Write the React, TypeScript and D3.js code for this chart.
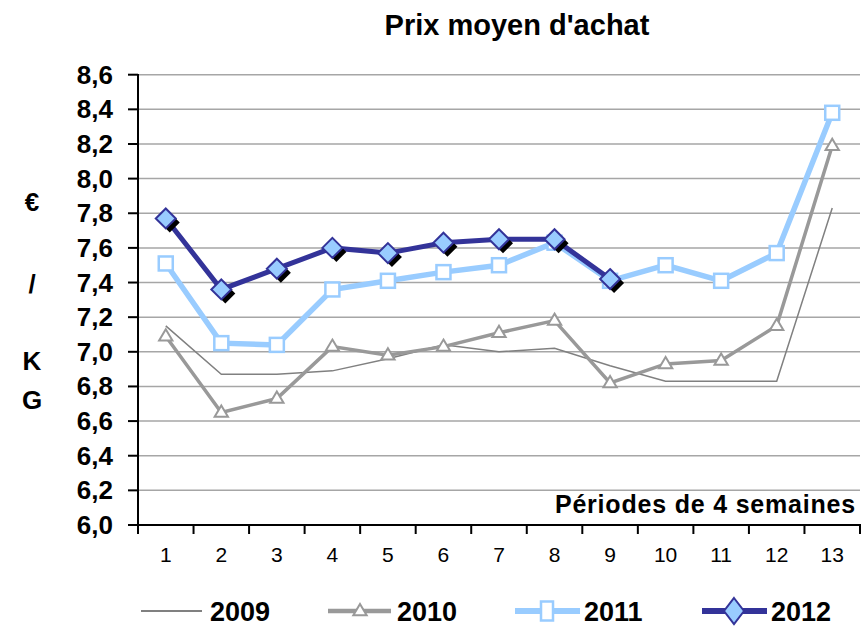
import React from "react";
import * as d3 from "d3";

const periods = ["1","2","3","4","5","6","7","8","9","10","11","12","13"];
const yTicks = [6.0,6.2,6.4,6.6,6.8,7.0,7.2,7.4,7.6,7.8,8.0,8.2,8.4,8.6];
const s2009 = [7.15,6.87,6.87,6.89,6.96,7.04,7.00,7.02,6.92,6.83,6.83,6.83,7.83];
const s2010 = [7.09,6.65,6.73,7.03,6.98,7.03,7.11,7.18,6.82,6.93,6.95,7.15,8.19];
const s2011 = [7.51,7.05,7.04,7.36,7.41,7.46,7.50,7.63,7.41,7.50,7.41,7.57,8.38];
const s2012 = [7.77,7.36,7.48,7.60,7.57,7.63,7.65,7.65,7.42];
const legendLabels = ["2009","2010","2011","2012"];

const FONT = "'Liberation Sans', Arial, sans-serif";

export default function App() {
  const x = d3.scaleBand().domain(periods).range([138, 860]);
  const bw = x.bandwidth();
  const cx = (i: number) => (x(periods[i]) as number) + bw / 2;
  const y = d3.scaleLinear().domain([6.0, 8.6]).range([525, 74.7]);
  const line = d3.line<number>().x((_, i) => cx(i)).y((d) => y(d));

  const tri = (px: number, py: number, r: number) =>
    `M${px},${py - r}L${px + r * 0.95},${py + r * 0.6}L${px - r * 0.95},${py + r * 0.6}Z`;
  const dia = (px: number, py: number, rx: number, ry: number) =>
    `M${px},${py - ry}L${px + rx},${py}L${px},${py + ry}L${px - rx},${py}Z`;

  const legendX = [141, 328, 515, 702];

  return (
    <svg width={861} height={627} style={{ position: "absolute", left: 0, top: 0, background: "#fff" }}>
      <text x={517} y={35} textAnchor="middle" fontFamily={FONT} fontWeight="bold" fontSize={29}>
        Prix moyen d'achat
      </text>
      {yTicks.map((t) => (
        <line key={"g" + t} x1={138} x2={860} y1={y(t)} y2={y(t)} stroke="#a6a6a6" strokeWidth={1.5} />
      ))}
      {yTicks.map((t) => (
        <g key={"t" + t}>
          <line x1={128} x2={138} y1={y(t)} y2={y(t)} stroke="#000" strokeWidth={2} />
          <text x={113} y={y(t) + 9} textAnchor="end" fontFamily={FONT} fontWeight="bold" fontSize={26}>
            {t.toFixed(1).replace(".", ",")}
          </text>
        </g>
      ))}
      {periods.map((p, i) => (
        <g key={"x" + p}>
          <line x1={x(p) as number} x2={x(p) as number} y1={525} y2={534} stroke="#000" strokeWidth={2} />
          <text x={cx(i)} y={561.5} textAnchor="middle" fontFamily={FONT} fontSize={21}>{p}</text>
        </g>
      ))}
      <line x1={860} x2={860} y1={525} y2={534} stroke="#000" strokeWidth={2} />
      <line x1={138} x2={138} y1={74} y2={526} stroke="#000" strokeWidth={2} />
      <line x1={137} x2={861} y1={525} y2={525} stroke="#000" strokeWidth={2} />

      <text x={856} y={513} textAnchor="end" fontFamily={FONT} fontWeight="bold" fontSize={25} letterSpacing={0.8}>
        Périodes de 4 semaines
      </text>

      {[["€", 201.5], ["/", 283.5], ["K", 361], ["G", 400]].map(([c, py]) => (
        <text key={c as string} x={32} y={(py as number) + 9} textAnchor="middle" fontFamily={FONT} fontWeight="bold" fontSize={26}>
          {c}
        </text>
      ))}

      <path d={line(s2009) || ""} fill="none" stroke="#808080" strokeWidth={1.5} />
      <path d={line(s2010) || ""} fill="none" stroke="#999999" strokeWidth={3.5} />
      {s2010.map((v, i) => (
        <path key={"tr" + i} d={tri(cx(i), y(v), 7)} fill="#fff" stroke="#999999" strokeWidth={2} />
      ))}
      <path d={line(s2011) || ""} fill="none" stroke="#99ccff" strokeWidth={5.5} />
      {s2011.map((v, i) => (
        <rect key={"sq" + i} x={cx(i) - 7} y={y(v) - 7} width={14} height={14} fill="#fff" stroke="#99ccff" strokeWidth={2.5} />
      ))}
      <path d={line(s2012) || ""} fill="none" stroke="#333399" strokeWidth={5} />
      {s2012.map((v, i) => (
        <g key={"di" + i}>
          <path d={dia(cx(i) + 4, y(v) + 4, 10, 10)} fill="#000" />
          <path d={dia(cx(i), y(v), 10, 10)} fill="#99ccff" stroke="#333399" strokeWidth={2} />
        </g>
      ))}

      {legendLabels.map((lab, k) => {
        const lx = legendX[k];
        const ly = 611;
        const mx = lx + 32;
        return (
          <g key={lab}>
            {k === 0 && <line x1={lx} x2={lx + 61} y1={ly} y2={ly} stroke="#808080" strokeWidth={2} />}
            {k === 1 && (
              <>
                <line x1={lx} x2={lx + 63} y1={ly} y2={ly} stroke="#999999" strokeWidth={4.5} />
                <path d={tri(mx, ly, 7)} fill="#fff" stroke="#999999" strokeWidth={2} />
              </>
            )}
            {k === 2 && (
              <>
                <line x1={lx} x2={lx + 65} y1={ly} y2={ly} stroke="#99ccff" strokeWidth={6} />
                <rect x={mx - 6} y={ly - 9.5} width={12} height={19} fill="#fff" stroke="#99ccff" strokeWidth={2.5} />
              </>
            )}
            {k === 3 && (
              <>
                <line x1={lx} x2={lx + 65} y1={ly} y2={ly} stroke="#333399" strokeWidth={6} />
                <path d={dia(mx, ly, 10, 13)} fill="#99ccff" stroke="#333399" strokeWidth={2} />
              </>
            )}
            <text x={lx + 69} y={ly + 10} fontFamily={FONT} fontWeight="bold" fontSize={27}>{lab}</text>
          </g>
        );
      })}
    </svg>
  );
}
